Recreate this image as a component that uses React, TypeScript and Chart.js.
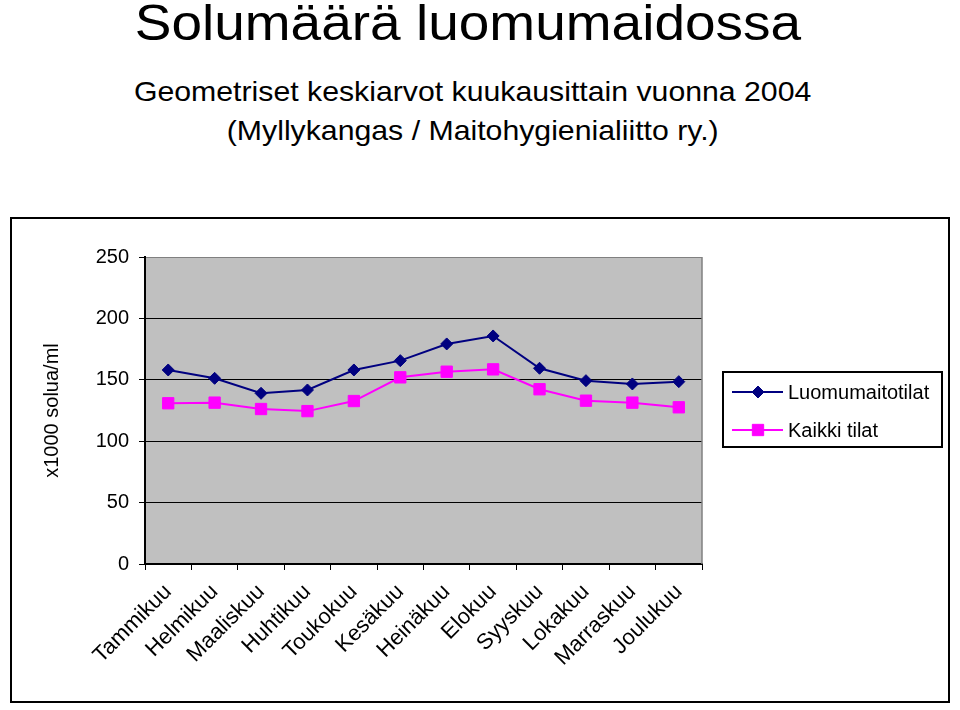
import React, { useEffect, useRef } from 'react';
import { Chart, registerables } from 'chart.js';
import { drawPoint } from 'chart.js/helpers';

Chart.register(...registerables);

const months = [
  'Tammikuu', 'Helmikuu', 'Maaliskuu', 'Huhtikuu', 'Toukokuu', 'Kesäkuu',
  'Heinäkuu', 'Elokuu', 'Syyskuu', 'Lokakuu', 'Marraskuu', 'Joulukuu',
];
const luomumaitotilat = [158, 151.2, 139, 141.7, 158, 165.6, 179.2, 185.7, 159.4, 149.3, 146.6, 148.5];
const kaikkiTilat = [130.9, 131.4, 126.2, 124.5, 132.7, 152, 156.6, 158.5, 142.3, 133, 131.4, 127.6];
const seriesNames = ['Luomumaitotilat', 'Kaikki tilat'];
const yMin = 0;
const yMax = 250;
const yStep = 50;
const yTitle = 'x1000 solua/ml';
const titleText = 'Solumäärä luomumaidossa';
const subtitleLines = [
  'Geometriset keskiarvot kuukausittain vuonna 2004',
  '(Myllykangas / Maitohygienialiitto ry.)',
];

const FONT = "'Liberation Sans', Arial, Helvetica, sans-serif";

const plotBg = {
  id: 'plotBg',
  beforeDraw(chart: any) {
    const { ctx, chartArea } = chart;
    ctx.save();
    ctx.fillStyle = '#C0C0C0';
    ctx.fillRect(chartArea.left, chartArea.top, chartArea.right - chartArea.left, chartArea.bottom - chartArea.top);
    ctx.restore();
  },
  beforeDatasetsDraw(chart: any) {
    const { ctx, chartArea } = chart;
    ctx.save();
    ctx.strokeStyle = '#808080';
    ctx.lineWidth = 1.5;
    ctx.beginPath();
    ctx.moveTo(chartArea.right, chartArea.top);
    ctx.lineTo(chartArea.right, chartArea.bottom);
    ctx.stroke();
    ctx.restore();
  },
};

const boxLegend = {
  id: 'boxLegend',
  afterDraw(chart: any) {
    const { ctx, chartArea } = chart;
    const x0 = chartArea.right + 21;
    const w = 219;
    const h = 75;
    const yc = (chartArea.top + chartArea.bottom) / 2;
    const y0 = yc - h / 2 - 1;
    ctx.save();
    ctx.fillStyle = '#fff';
    ctx.fillRect(x0, y0, w, h);
    ctx.strokeStyle = '#000';
    ctx.lineWidth = 2;
    ctx.strokeRect(x0, y0, w, h);
    chart.data.datasets.forEach((ds: any, i: number) => {
      const y = y0 + 20 + i * 38;
      ctx.strokeStyle = ds.borderColor;
      ctx.lineWidth = ds.borderWidth;
      ctx.beginPath();
      ctx.moveTo(x0 + 9, y);
      ctx.lineTo(x0 + 60, y);
      ctx.stroke();
      ctx.fillStyle = ds.pointBackgroundColor;
      ctx.strokeStyle = ds.pointBorderColor;
      ctx.lineWidth = 1;
      drawPoint(ctx, { pointStyle: ds.pointStyle, radius: ds.pointRadius, borderWidth: 1, rotation: 0 } as any, x0 + 35, y);
      ctx.fillStyle = '#000';
      ctx.font = `20px ${FONT}`;
      ctx.textBaseline = 'middle';
      ctx.textAlign = 'left';
      ctx.fillText(ds.label, x0 + 65, y + 1);
    });
    ctx.restore();
  },
};

function ChartCanvas() {
  const ref = useRef<HTMLCanvasElement>(null);
  useEffect(() => {
    if (!ref.current) return;
    const chart = new Chart(ref.current, {
      type: 'line',
      data: {
        labels: months,
        datasets: [
          {
            label: seriesNames[0],
            data: luomumaitotilat,
            borderColor: '#000080',
            backgroundColor: '#000080',
            pointBackgroundColor: '#000080',
            pointBorderColor: '#000080',
            borderWidth: 2,
            pointStyle: 'rectRot',
            pointRadius: 6,
            pointBorderWidth: 1,
            tension: 0,
          },
          {
            label: seriesNames[1],
            data: kaikkiTilat,
            borderColor: '#FF00FF',
            backgroundColor: '#FF00FF',
            pointBackgroundColor: '#FF00FF',
            pointBorderColor: '#FF00FF',
            borderWidth: 2,
            pointStyle: 'rect',
            pointRadius: 8,
            pointBorderWidth: 1,
            tension: 0,
          },
        ],
      },
      options: {
        responsive: false,
        animation: false,
        devicePixelRatio: 1,
        layout: { padding: { top: 257, right: 258, left: 36, bottom: 16 } },
        plugins: {
          legend: { display: false },
          title: { display: false },
          tooltip: { enabled: false },
        },
        scales: {
          x: {
            offset: true,
            afterFit: (s: any) => { s.height = 130; },
            grid: {
              offset: true,
              drawOnChartArea: false,
              drawTicks: true,
              tickLength: 6,
              color: '#000',
              tickColor: '#000',
            },
            border: { color: '#000', width: 2 },
            ticks: {
              color: '#000',
              font: { family: FONT, size: 22 },
              maxRotation: 45,
              minRotation: 45,
              autoSkip: false,
              padding: 9,
            },
          },
          y: {
            min: yMin,
            max: yMax,
            afterFit: (s: any) => { s.width = 109; },
            grid: {
              color: (c: any) => (c.tick && c.tick.value === yMax ? '#808080' : '#000'),
              tickColor: '#000',
              tickLength: 6,
              lineWidth: 1,
            },
            border: { color: '#000', width: 2 },
            ticks: {
              stepSize: yStep,
              color: '#000',
              font: { family: FONT, size: 20 },
              padding: 10,
            },
            title: {
              display: true,
              text: yTitle,
              color: '#000',
              font: { family: FONT, size: 20 },
            },
          },
        },
      },
      plugins: [plotBg, boxLegend],
    });
    return () => chart.destroy();
  }, []);
  return (
    <canvas
      ref={ref}
      width={960}
      height={710}
      style={{ position: 'absolute', left: 0, top: 0, width: 960, height: 710 }}
    />
  );
}

export default function App() {
  const line = (text: string, top: number, size: number, cx: number, sx: number) => (
    <div
      style={{
        position: 'absolute',
        left: cx - 480,
        width: 960,
        top,
        fontSize: size,
        lineHeight: `${size}px`,
        textAlign: 'center',
        fontFamily: FONT,
        color: '#000',
        whiteSpace: 'nowrap',
      }}
    >
      <span style={{ display: 'inline-block', transform: `scaleX(${sx})`, transformOrigin: 'center' }}>{text}</span>
    </div>
  );
  return (
    <div style={{ position: 'absolute', left: 0, top: 0, width: 960, height: 710, background: '#fff', overflow: 'hidden' }}>
      {line(titleText, -2.3, 50, 467.5, 1.1)}
      {line(subtitleLines[0], 78.3, 28, 473, 1.08)}
      {line(subtitleLines[1], 117.3, 28, 472.5, 1.08)}
      <div
        style={{
          position: 'absolute',
          left: 10,
          top: 217,
          width: 940,
          height: 486,
          border: '2px solid #000',
          boxSizing: 'border-box',
        }}
      />
      <ChartCanvas />
    </div>
  );
}
